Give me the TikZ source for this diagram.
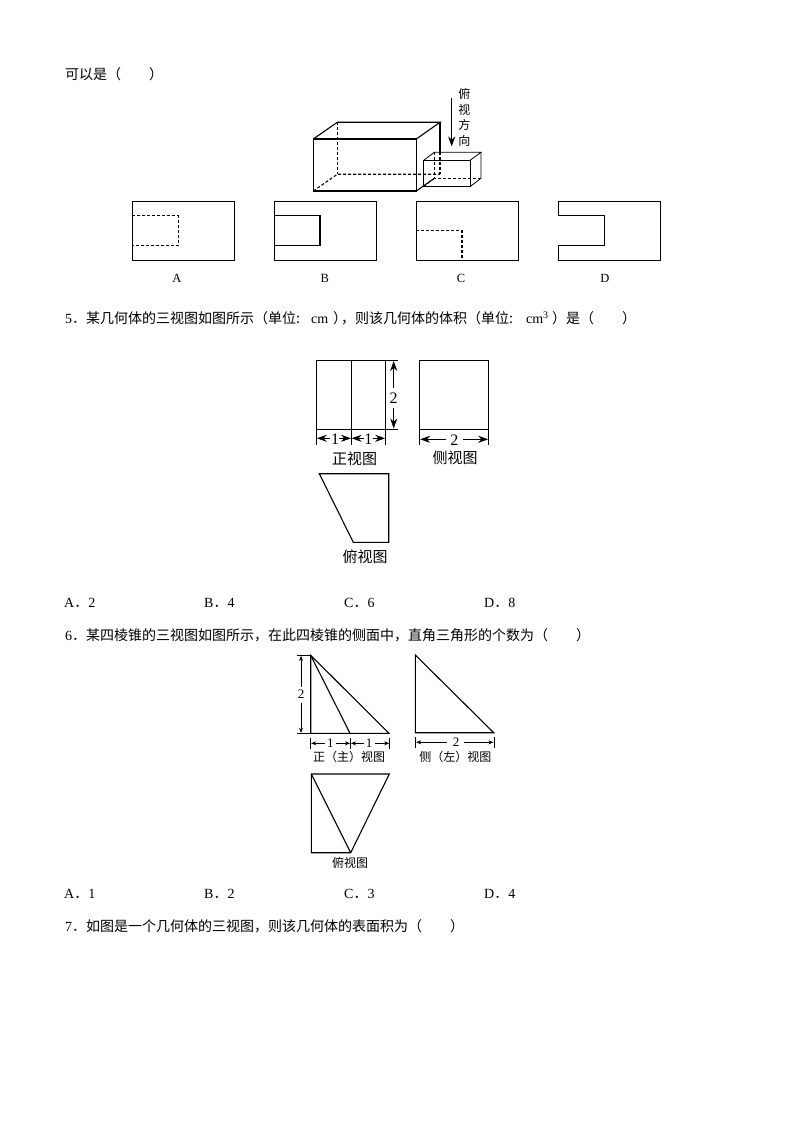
\documentclass[tikz,border=0pt]{standalone}
\usepackage{fontspec}
\setmainfont{Liberation Serif}
\newfontfamily\cjk{Noto Sans CJK SC}
\usetikzlibrary{arrows.meta}
\newcommand{\lat}[1]{{\rmfamily #1}}
\tikzset{
  shape line/.style={draw=black,line width=1.1pt,line join=miter},
  hidden line/.style={draw=black,line width=1.1pt,dash pattern=on 3pt off 2pt},
  thin line/.style={draw=black,line width=0.8pt},
  dim big/.style={draw=black,line width=0.8pt,-{Stealth[length=10pt,width=7pt]}},
  dim small/.style={draw=black,line width=0.7pt,-{Stealth[length=5pt,width=4pt]}},
  body text/.style={anchor=base west,inner sep=0pt,font=\fontsize{14}{16}\selectfont\cjk},
  letter label/.style={inner sep=0pt,font=\fontsize{12.5}{14}\selectfont},
  view big/.style={inner sep=0pt,font=\fontsize{15}{17}\selectfont\cjk},
  view small/.style={inner sep=0pt,font=\fontsize{12}{14}\selectfont\cjk},
  dim num big/.style={inner sep=0pt,font=\fontsize{16}{17}\selectfont},
  dim num small/.style={inner sep=0pt,font=\fontsize{13}{14}\selectfont},
}
\begin{document}
\begin{tikzpicture}[x=1pt,y=-1pt]
\useasboundingbox (0,0) rectangle (794,1123);
\fill[white] (0,0) rectangle (794,1123);

% question text
\node[body text] (t0) at (65,79.5) {可以是（\hspace{28pt}）};
\node[body text] (t5) at (65,323.5) {\lat{5}．某几何体的三视图如图所示（单位:\hspace{11pt}\lat{cm}\hspace{5pt}）\hspace{-6pt}，则该几何体的体积（单位:\hspace{13pt}\lat{cm\raisebox{5pt}{\fontsize{10}{10}\selectfont 3}}\hspace{4pt}）是（\hspace{28pt}）};
\node[body text] (a5) at (64,607.5) {\lat{A}．\lat{2}};
\node[body text] (b5) at (204,607.5) {\lat{B}．\lat{4}};
\node[body text] (c5) at (344,607.5) {\lat{C}．\lat{6}};
\node[body text] (d5) at (484,607.5) {\lat{D}．\lat{8}};
\node[body text] (t6) at (65,640.5) {\lat{6}．某四棱锥的三视图如图所示，在此四棱锥的侧面中，直角三角形的个数为（\hspace{28pt}）};
\node[body text] (a6) at (64,898.5) {\lat{A}．\lat{1}};
\node[body text] (b6) at (204,898.5) {\lat{B}．\lat{2}};
\node[body text] (c6) at (344,898.5) {\lat{C}．\lat{3}};
\node[body text] (d6) at (484,898.5) {\lat{D}．\lat{4}};
\node[body text] (t7) at (65,931.5) {\lat{7}．如图是一个几何体的三视图，则该几何体的表面积为（\hspace{28pt}）};

% solid figure
\draw[shape line] (313.3,139) rectangle (416.3,191);
\draw[shape line] (313.3,139) -- (337.3,122.3) -- (440,122.3) -- (416.3,139);
\draw[shape line] (440,122.3) -- (440,152.3);
\draw[shape line] (416.3,191) -- (434.3,178.3);
\draw[hidden line] (337.3,122.3) -- (337.3,174.3);
\draw[hidden line] (313.3,191) -- (337.3,174.3) -- (440,174.3);
\draw[hidden line] (440,152.3) -- (440,174.3);
\draw[thin line] (423.7,160.3) rectangle (470,186.7);
\draw[thin line] (423.7,160.3) -- (434.3,152.3) -- (481,152.3) -- (470,160.3);
\draw[thin line] (481,152.3) -- (481,178.3) -- (470,186.7);
\draw[hidden line,line width=0.8pt] (434.3,152.3) -- (434.3,178.3) -- (481,178.3);
\draw[hidden line,line width=0.8pt] (423.7,186.7) -- (434.3,178.3);
\coordinate (viewtop) at (451.7,98);
\coordinate (viewend) at (451.7,146.5);
\draw[dim big] (viewtop) -- (viewend);
\node[view small] (v1) at (464.3,94) {俯};
\node[view small] (v2) at (464.3,109.5) {视};
\node[view small] (v3) at (464.3,125) {方};
\node[view small] (v4) at (464.3,141) {向};

% options A-D
\draw[shape line] (132.3,201.7) rectangle (234.3,260.3);
\draw[hidden line] (132.3,215.7) -- (178.3,215.7) -- (178.3,245.7) -- (132.3,245.7);
\node[letter label] (la) at (177,278) {A};
\draw[shape line] (274.7,201.7) rectangle (376.7,260.3);
\draw[shape line] (274.7,215.7) -- (320,215.7) -- (320,245.7) -- (274.7,245.7);
\node[letter label] (lb) at (324.7,278) {B};
\draw[shape line] (416.3,201.7) rectangle (518.3,260.3);
\draw[hidden line] (416.3,230.3) -- (462,230.3) -- (462,260.3);
\node[letter label] (lc) at (461,278) {C};
\draw[shape line] (558.7,215.7) -- (558.7,201.7) -- (660.7,201.7) -- (660.7,260.3) -- (558.7,260.3) -- (558.7,245.7) -- (604.3,245.7) -- (604.3,215.7) -- cycle;
\node[letter label] (ld) at (605,278) {D};

% question 5 views
\draw[shape line] (316.3,360.3) rectangle (385.7,429.3);
\draw[shape line] (351.3,360.3) -- (351.3,429.3);
\draw[thin line] (385.7,360.3) -- (397.7,360.3);
\draw[thin line] (385.7,429.3) -- (397.7,429.3);
\draw[thin line] (316.3,429.3) -- (316.3,445);
\draw[thin line] (351.3,429.3) -- (351.3,445);
\draw[thin line] (385.7,429.3) -- (385.7,445);
\node[dim num big] (n2a) at (393.7,398.5) {2};
\draw[dim big] (393.7,388) -- (393.7,361);
\draw[dim big] (393.7,408) -- (393.7,428.5);
\draw[dim big] (330,438.3) -- (316.8,438.3);
\draw[dim big] (339,438.3) -- (351,438.3);
\draw[dim big] (364,438.3) -- (351.6,438.3);
\draw[dim big] (373,438.3) -- (385.2,438.3);
\node[dim num big] (n1a) at (335,439.5) {1};
\node[dim num big] (n1b) at (368.3,439.5) {1};
\node[view big] (l5a) at (354.5,459) {正视图};

\draw[shape line] (419.7,360.3) rectangle (488.7,429.3);
\draw[thin line] (419.7,429.3) -- (419.7,445);
\draw[thin line] (488.7,429.3) -- (488.7,445);
\draw[dim big] (446,439.3) -- (420.2,439.3);
\draw[dim big] (463,439.3) -- (488.2,439.3);
\node[dim num big] (n2b) at (454.3,440) {2};
\node[view big] (l5b) at (455,457.5) {侧视图};

\draw[shape line] (319.3,473.7) -- (388.7,473.7) -- (388.7,542.3) -- (353.3,542.3) -- cycle;
\node[view big] (l5c) at (365,556.5) {俯视图};

% question 6 views
\draw[shape line] (310.7,655.3) -- (310.7,733.3) -- (389,733.3) -- cycle;
\draw[shape line] (310.7,655.3) -- (350,733.3);
\draw[thin line] (296.7,655.3) -- (310.7,655.3);
\draw[thin line] (296.7,733.3) -- (310.7,733.3);
\draw[dim small] (301,687) -- (301,655.8);
\draw[dim small] (301,703) -- (301,732.8);
\node[dim num small] (n2c) at (301,694) {2};
\draw[thin line] (310.7,737.5) -- (310.7,749);
\draw[thin line] (350.5,737.5) -- (350.5,749);
\draw[thin line] (389.7,737.5) -- (389.7,749);
\draw[dim small] (325,743.3) -- (311.2,743.3);
\draw[dim small] (336,743.3) -- (350,743.3);
\draw[dim small] (364,743.3) -- (351,743.3);
\draw[dim small] (375,743.3) -- (389.2,743.3);
\node[dim num small] (n1c) at (330.3,743.5) {1};
\node[dim num small] (n1d) at (369,743.5) {1};
\node[view small] (l6a) at (349,757) {正（主）视图};

\draw[shape line] (415.3,655) -- (415.3,732.7) -- (493.7,732.7) -- cycle;
\draw[thin line] (415.7,737) -- (415.7,748);
\draw[thin line] (494,737) -- (494,748);
\draw[dim small] (447,742.3) -- (416.2,742.3);
\draw[dim small] (464,742.3) -- (493.5,742.3);
\node[dim num small] (n2d) at (456,742.5) {2};
\node[view small] (l6b) at (455.3,757) {侧（左）视图};

\draw[shape line] (311.3,774) -- (389.3,774) -- (350.7,852.7) -- (311.3,852.7) -- cycle;
\draw[shape line] (311.3,774) -- (350.7,852.7);
\node[view small] (l6c) at (350,863.3) {俯视图};
\end{tikzpicture}
\end{document}
